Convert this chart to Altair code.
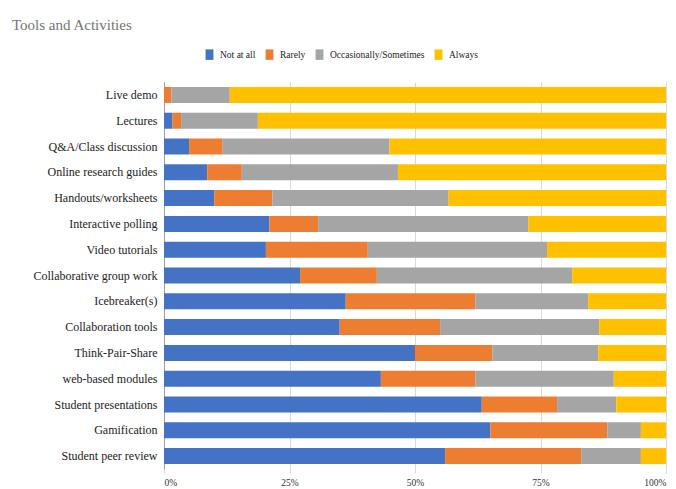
import altair as alt
import pandas as pd

# Activities, top to bottom
activities = [
    "Live demo", "Lectures", "Q&A/Class discussion", "Online research guides",
    "Handouts/worksheets", "Interactive polling", "Video tutorials",
    "Collaborative group work", "Icebreaker(s)", "Collaboration tools",
    "Think-Pair-Share", "web-based modules", "Student presentations",
    "Gamification", "Student peer review",
]

# Share of responses (%) for each frequency level
not_at_all = [0.0, 1.7, 5.0, 8.6, 10.0, 21.0, 20.3, 27.1, 36.2, 35.0, 50.0, 43.2, 63.3, 65.0, 56.0]
rarely = [1.5, 1.7, 6.7, 6.9, 11.6, 9.7, 20.3, 15.3, 25.8, 20.0, 15.4, 18.8, 15.0, 23.3, 27.1]
occasionally = [11.6, 15.3, 33.2, 31.1, 35.1, 41.9, 35.7, 38.9, 22.5, 31.7, 21.1, 27.6, 11.8, 6.7, 11.9]
always = [86.9, 81.3, 55.1, 53.4, 43.3, 27.4, 23.7, 18.7, 15.5, 13.3, 13.5, 10.4, 9.9, 5.0, 5.0]

levels = ["Not at all", "Rarely", "Occasionally/Sometimes", "Always"]
colors = ["#4472C4", "#ED7D31", "#A5A5A5", "#FFC000"]

rows = []
for i, act in enumerate(activities):
    for j, (lvl, series) in enumerate(zip(levels, [not_at_all, rarely, occasionally, always])):
        rows.append({"activity": act, "level": lvl, "order": j, "value": series[i]})
df = pd.DataFrame(rows)

FONT = "'Liberation Serif', 'Times New Roman', serif"

chart = (
    alt.Chart(df)
    .mark_bar()
    .encode(
        y=alt.Y(
            "activity:N",
            sort=activities,
            title=None,
            scale=alt.Scale(paddingInner=0.38, paddingOuter=0.19),
            axis=alt.Axis(
                ticks=False,
                domain=True,
                domainColor="#9e9e9e",
                domainWidth=1,
                labelPadding=7,
                labelFontSize=12,
                labelColor="#222222",
                labelFont=FONT,
                grid=False,
            ),
        ),
        x=alt.X(
            "value:Q",
            stack="normalize",
            title=None,
            scale=alt.Scale(domain=[0, 1], nice=False),
            axis=alt.Axis(
                values=[0, 0.25, 0.5, 0.75, 1],
                format=".0%",
                domain=False,
                grid=True,
                gridColor="#d9d9d9",
                ticks=True,
                tickColor="#d9d9d9",
                tickSize=4,
                labelFont=FONT,
                labelFontSize=9.5,
                labelColor="#333333",
                labelPadding=4,
            ),
        ),
        color=alt.Color(
            "level:N",
            sort=levels,
            scale=alt.Scale(domain=levels, range=colors),
            legend=alt.Legend(
                title=None,
                orient="none",
                legendX=40,
                legendY=-33,
                direction="horizontal",
                symbolType="M-0.75,-1H0.75V1H-0.75Z",
                symbolSize=110,
                symbolStrokeWidth=0,
                labelFont=FONT,
                labelFontSize=9.5,
                labelColor="#222222",
                labelOffset=5,
                columnPadding=8,
            ),
        ),
        order=alt.Order("order:Q", sort="ascending"),
    )
    .properties(
        width=502,
        height=387,
        autosize=alt.AutoSizeParams(type="none"),
        padding={"left": 164, "top": 82, "right": 10, "bottom": 20},
        title=alt.TitleParams(
            "Tools and Activities",
            anchor="start",
            frame="group",
            dx=-152,
            offset=16,
            font=FONT,
            fontSize=15,
            fontWeight="normal",
            color="#757575",
        ),
    )
    .configure_view(stroke=None)
)

chart.save("out.html", embed_options={"renderer": "svg", "actions": False})
